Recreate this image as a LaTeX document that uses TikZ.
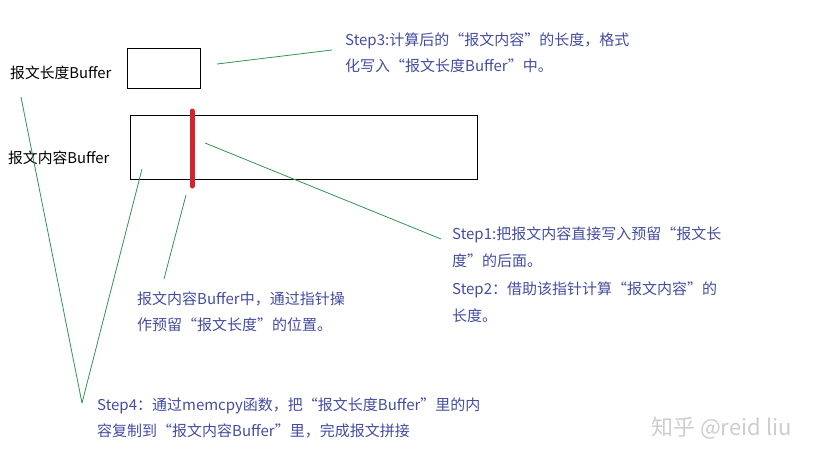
\documentclass[tikz,border=0pt]{standalone}
\usepackage{fontspec}
\setmainfont{Noto Sans CJK SC}
\definecolor{notecol}{RGB}{68,76,160}
\definecolor{linecol}{RGB}{46,150,80}
\definecolor{barcol}{RGB}{210,36,46}
\definecolor{markcol}{RGB}{205,205,205}
\begin{document}
\begin{tikzpicture}[x=1pt, y=-1pt,
	buf/.style={draw=black, line width=1pt, anchor=north west, inner sep=0pt},
	label/.style={font=\fontsize{14.8}{18}\selectfont, anchor=west, inner sep=0pt},
	note/.style={text=notecol, font=\fontsize{15}{26}\selectfont, align=left, anchor=west, inner sep=0pt},
	pointer/.style={draw=linecol, line width=0.8pt}]
	\useasboundingbox (0,0) rectangle (819,460);

	% buffers
	\node[buf, minimum width=73pt, minimum height=40pt]  (lenbuf) at (127,48)  {};
	\node[buf, minimum width=347pt, minimum height=64pt] (msgbuf) at (130,115) {};
	\node[label] (lenlabel) at (10,73)  {报文长度Buffer};
	\node[label] (msglabel) at (8,158)  {报文内容Buffer};

	% pointer position
	\coordinate (bartop) at (192,111);
	\coordinate (barbot) at (192,186);
	\draw[barcol, line width=5pt, line cap=round] (bartop) -- (barbot);

	% notes
	\node[note] (step3) at (345,53) {Step3:计算后的“报文内容”的长度，格式\\化写入“报文长度Buffer”中。};
	\node[note, font=\fontsize{15}{27.5}\selectfont] (step1) at (452,274.5) {Step1:把报文内容直接写入预留“报文长\\度”的后面。\\Step2：借助该指针计算“报文内容”的\\长度。};
	\node[note] (ptrnote) at (137,312) {报文内容Buffer中，通过指针操\\作预留“报文长度”的位置。};
	\node[note] (step4) at (97,418) {Step4：通过memcpy函数，把“报文长度Buffer”里的内\\容复制到“报文内容Buffer”里，完成报文拼接};
	\node[text=markcol, font=\fontsize{22}{26}\selectfont, anchor=west, inner sep=0pt] (mark) at (651,428) {知乎 @reid liu};

	% pointers
	\coordinate (p3a) at (217,64);
	\coordinate (p3b) at (332,50);
	\coordinate (p1a) at (205,143);
	\coordinate (p1b) at (441,239);
	\coordinate (pna) at (186,195);
	\coordinate (pnb) at (164,279);
	\coordinate (v4l) at (21,97);
	\coordinate (v4r) at (142,169);
	\coordinate (v4)  at (82,403);
	\path[pointer] (p3a) edge (p3b);
	\path[pointer] (p1a) edge (p1b);
	\path[pointer] (pna) edge (pnb);
	\path[pointer] (v4l) edge (v4);
	\path[pointer] (v4r) edge (v4);
\end{tikzpicture}
\end{document}
